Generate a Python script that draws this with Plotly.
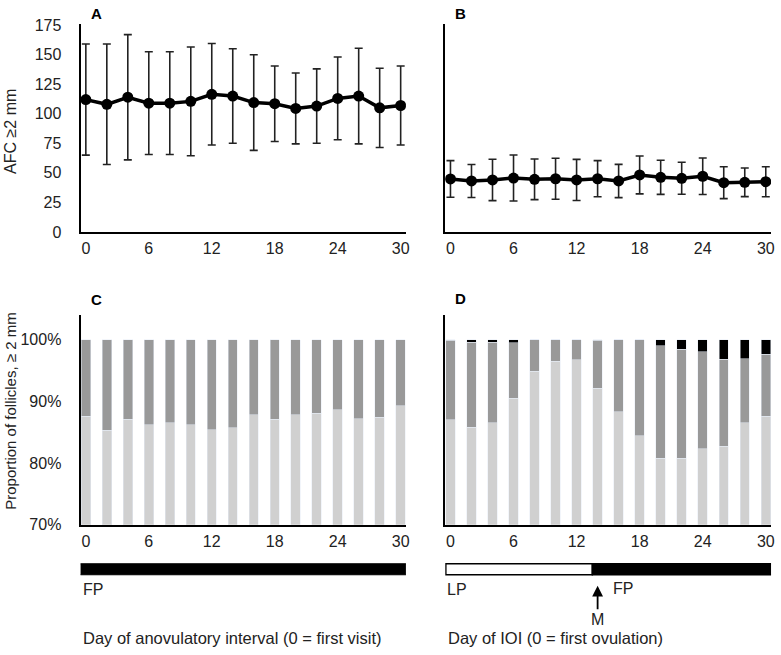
import plotly.graph_objects as go

W, H = 781, 655

days = list(range(0, 31, 2))
day_ticks = [0, 6, 12, 18, 24, 30]

# A - anovulatory interval, AFC >= 2 mm (mean +/- SD)
afc_anov = [112, 108, 114, 109, 109, 110.5, 116.5, 115, 109.5, 108.5, 104.5, 106.5, 113, 115, 105, 107]
afc_anov_sd = [47, 51, 53, 43.5, 43.5, 46, 43, 40, 40.5, 32, 30, 31.5, 35, 40.5, 33.5, 33.5]

# B - interovulatory interval
afc_ioi = [44.8, 43.1, 44, 45.6, 44.5, 45, 44, 45, 43.1, 48.2, 46.2, 45.4, 47.1, 41.7, 42, 42.5]
afc_ioi_sd = [15.5, 14, 17.5, 19.5, 17.2, 17.3, 17.4, 15.3, 14.1, 16, 14.4, 13.5, 15.5, 13.5, 12.1, 12.7]

# C - proportions (%) anovulatory
anov_small = [87.6, 85.3, 87.1, 86.2, 86.5, 86.2, 85.4, 85.7, 87.8, 87.1, 87.8, 88.1, 88.6, 87.2, 87.4, 89.3]
anov_mid = [12.4, 14.7, 12.9, 13.8, 13.5, 13.8, 14.6, 14.3, 12.2, 12.9, 12.2, 11.9, 11.4, 12.8, 12.6, 10.7]

# D - proportions (%) IOI
ioi_small = [87.0, 85.8, 86.5, 90.5, 94.9, 96.5, 96.7, 92.1, 88.3, 84.4, 80.8, 80.8, 82.3, 82.7, 86.5, 87.6]
ioi_mid = [12.9, 13.8, 13.1, 9.0, 5.1, 3.5, 3.3, 7.8, 11.7, 15.55, 18.2, 17.6, 15.7, 14.1, 10.4, 10.0]
ioi_large = [0.1, 0.4, 0.4, 0.5, 0, 0, 0, 0.1, 0, 0.05, 1.0, 1.6, 2.0, 3.2, 3.1, 2.4]

pct_ticks = [70, 80, 90, 100]
pct_labels = ["70%", "80%", "90%", "100%"]

# phase bars under C and D
anov_phase_start = [-0.66]
anov_phase_end = [30.75]
anov_phase_label = ["FP"]
ioi_phase_start = [-0.44, 13.5]
ioi_phase_end = [13.5, 31]
ioi_phase_label = ["LP", "FP"]
mating_day = 14

FONT = "Liberation Sans, Arial, sans-serif"
LIGHT = "#d0d0d0"
MID = "#999999"
FS = 16

# the captured page comes out slightly squeezed vertically; map target pixel
# rows to figure rows so things land where they should
SY, OY = 0.976, 7.0


def px(x):
    return x / W


def py(y):
    fy = (y - OY) / SY
    return 1 - fy / H


fig = go.Figure()

for vals, sd, xa, ya in [(afc_anov, afc_anov_sd, "x", "y"), (afc_ioi, afc_ioi_sd, "x2", "y2")]:
    fig.add_trace(go.Scatter(
        x=days, y=vals, xaxis=xa, yaxis=ya, mode="lines+markers",
        line=dict(color="black", width=3.5),
        marker=dict(size=11, color="black"),
        error_y=dict(type="data", array=sd, visible=True, color="#222222", thickness=1.6, width=4),
    ))

fig.add_trace(go.Bar(x=days, y=anov_small, xaxis="x3", yaxis="y3", marker_color=LIGHT, width=0.9))
fig.add_trace(go.Bar(x=days, y=anov_mid, xaxis="x3", yaxis="y3", marker_color=MID, width=0.9))
fig.add_trace(go.Bar(x=days, y=ioi_small, xaxis="x4", yaxis="y4", marker_color=LIGHT, width=0.9))
fig.add_trace(go.Bar(x=days, y=ioi_mid, xaxis="x4", yaxis="y4", marker_color=MID, width=0.9))
fig.add_trace(go.Bar(x=days, y=ioi_large, xaxis="x4", yaxis="y4", marker_color="black", width=0.9))

tick_font = dict(family=FONT, size=FS, color="#222222")
xcommon = dict(range=[-0.5, 30.5], tickvals=day_ticks, showline=True, linecolor="black", linewidth=2,
               ticks="", showgrid=False, zeroline=False, tickfont=tick_font, ticklabelstandoff=1)
ycommon = dict(showline=True, linecolor="black", linewidth=2, ticks="", showgrid=False,
               zeroline=False, tickfont=tick_font, ticklabelstandoff=14)

top_dom = [py(232), py(24)]
bot_dom = [py(525), py(315)]
left_dom = [px(81), px(408)]
right_dom = [px(447.5), px(775)]

fig.update_layout(
    width=W, height=H, margin=dict(l=0, r=0, t=0, b=0),
    paper_bgcolor="white", plot_bgcolor="white", showlegend=False, barmode="stack",
    font=dict(family=FONT, size=FS, color="#222222"),
    xaxis=dict(domain=left_dom, anchor="y", **xcommon),
    yaxis=dict(domain=top_dom, anchor="x", range=[0, 176], tickvals=list(range(0, 176, 25)), **ycommon),
    xaxis2=dict(domain=right_dom, anchor="y2", **xcommon),
    yaxis2=dict(domain=top_dom, anchor="x2", range=[0, 176], showticklabels=False, **ycommon),
    xaxis3=dict(domain=left_dom, anchor="y3", **xcommon),
    yaxis3=dict(domain=bot_dom, anchor="x3", range=[70, 104], tickvals=pct_ticks, ticktext=pct_labels,
                **ycommon),
    xaxis4=dict(domain=right_dom, anchor="y4", **xcommon),
    yaxis4=dict(domain=bot_dom, anchor="x4", range=[70, 104], showticklabels=False, **ycommon),
)

# phase bars
shapes = []
for s, e in zip(anov_phase_start, anov_phase_end):
    shapes.append(dict(type="rect", xref="x3", yref="paper", x0=s, x1=e, y0=py(575), y1=py(564),
                       fillcolor="black", line=dict(color="black", width=1)))
for s, e, lab in zip(ioi_phase_start, ioi_phase_end, ioi_phase_label):
    fill = "white" if lab == "LP" else "black"
    shapes.append(dict(type="rect", xref="x4", yref="paper", x0=s, x1=e, y0=py(575), y1=py(564),
                       fillcolor=fill, line=dict(color="black", width=1.5)))
fig.update_layout(shapes=shapes)


def note(text, x, y, xref="paper", **kw):
    d = dict(text=text, x=x, y=y, xref=xref, yref="paper", showarrow=False,
             yanchor="middle", font=dict(size=FS))
    d.update(kw)
    return d


ann = []
for lab, x, y in [("A", 97, 13.5), ("B", 463, 13.5), ("C", 97, 300), ("D", 463, 299)]:
    ann.append(note("<b>%s</b>" % lab, px(x), py(y), xanchor="center",
                    font=dict(size=15, color="black")))

ann.append(note("AFC ≥2 mm", px(11), py(131), xanchor="center", textangle=-90))
ann.append(note("Proportion of follicles, ≥ 2 mm", px(11), py(411), xanchor="center", textangle=-90,
                font=dict(size=15)))

ann.append(note(anov_phase_label[0], 0, py(590), xref="x3", xanchor="left", xshift=-5))
ann.append(note(ioi_phase_label[0], 0, py(590), xref="x4", xanchor="left", xshift=-5))
ann.append(note(ioi_phase_label[1], mating_day, py(589), xref="x4", xanchor="left", xshift=13))
# mating arrow
ann.append(dict(text="", x=mating_day, y=py(586), xref="x4", yref="paper", ax=0, ay=25,
                showarrow=True, arrowhead=2, arrowsize=1.2, arrowwidth=1.8, arrowcolor="black"))
ann.append(note("M", mating_day, py(619.5), xref="x4", xanchor="center"))

ann.append(note("Day of anovulatory interval (0 = first visit)", px(81), py(638.5), xanchor="left",
                font=dict(size=16.5)))
ann.append(note("Day of IOI (0 = first ovulation)", px(448), py(638.5), xanchor="left",
                font=dict(size=16.5)))

fig.update_layout(annotations=ann)

# page body has a default margin; drop it so the figure sits at the page origin
fig.write_html("out.html", config={"displayModeBar": False},
               post_script="document.body.style.margin='0';")
